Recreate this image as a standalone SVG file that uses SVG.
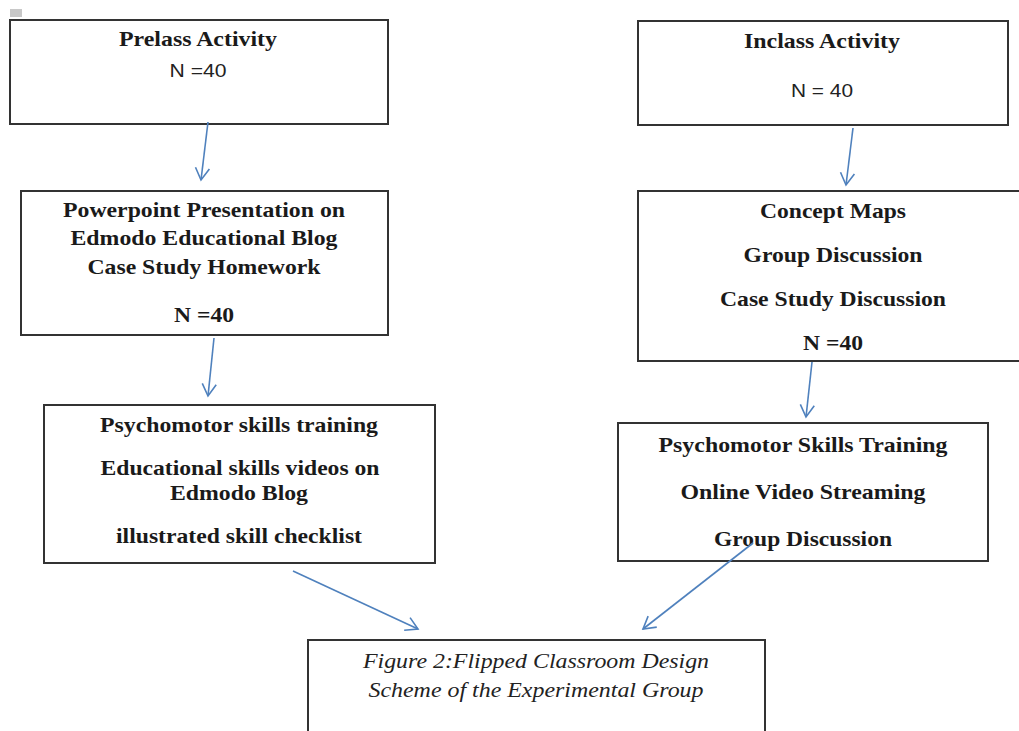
<svg xmlns="http://www.w3.org/2000/svg" width="1019" height="731" viewBox="0 0 1019 731">
<style>
.box{fill:#fff;stroke:#333;stroke-width:2}
.b{font-family:"Liberation Serif",serif;font-weight:bold;font-size:22px;fill:#1a1a1a;text-anchor:middle}
.s{font-family:"Liberation Sans",sans-serif;font-size:19px;fill:#222;text-anchor:middle}
.i{font-family:"Liberation Serif",serif;font-style:italic;font-size:21px;fill:#222;text-anchor:middle}
.c{fill:none;stroke:#4f81bd;stroke-width:1.6}
</style>
<defs>
<marker id="ah" markerUnits="userSpaceOnUse" markerWidth="30" markerHeight="30" refX="15" refY="15" orient="auto" overflow="visible">
<path d="M3,8 L15,15 L3,22" fill="none" stroke="#4f81bd" stroke-width="1.6"/>
</marker>
</defs>
<rect x="0" y="0" width="1019" height="731" fill="#fff"/>
<rect x="10" y="9" width="12" height="8" fill="#c8c8c8"/>
<g id="prelass">
<rect class="box" x="10" y="20" width="378" height="104"/>
<text class="b" x="198" y="46" textLength="158" lengthAdjust="spacingAndGlyphs">Prelass Activity</text>
<text class="s" x="198" y="77" textLength="57" lengthAdjust="spacingAndGlyphs">N =40</text>
</g>
<g id="inclass">
<rect class="box" x="638" y="21" width="370" height="104"/>
<text class="b" x="822" y="48" textLength="156" lengthAdjust="spacingAndGlyphs">Inclass Activity</text>
<text class="s" x="822" y="97" textLength="62" lengthAdjust="spacingAndGlyphs">N = 40</text>
</g>
<g id="powerpoint">
<rect class="box" x="21" y="191" width="367" height="144"/>
<text class="b" x="204" y="217" textLength="282" lengthAdjust="spacingAndGlyphs">Powerpoint Presentation on</text>
<text class="b" x="204" y="245" textLength="267" lengthAdjust="spacingAndGlyphs">Edmodo Educational Blog</text>
<text class="b" x="204" y="274" textLength="233" lengthAdjust="spacingAndGlyphs">Case Study Homework</text>
<text class="b" x="204" y="322" textLength="60" lengthAdjust="spacingAndGlyphs">N =40</text>
</g>
<g id="concept">
<rect class="box" x="638" y="191" width="384" height="170"/>
<text class="b" x="833" y="218" textLength="146" lengthAdjust="spacingAndGlyphs">Concept Maps</text>
<text class="b" x="833" y="262" textLength="179" lengthAdjust="spacingAndGlyphs">Group Discussion</text>
<text class="b" x="833" y="306" textLength="226" lengthAdjust="spacingAndGlyphs">Case Study Discussion</text>
<text class="b" x="833" y="350" textLength="60" lengthAdjust="spacingAndGlyphs">N =40</text>
</g>
<g id="psycho-left">
<rect class="box" x="44" y="405" width="391" height="158"/>
<text class="b" x="239" y="432" textLength="278" lengthAdjust="spacingAndGlyphs">Psychomotor skills training</text>
<text class="b" x="240" y="475" textLength="279" lengthAdjust="spacingAndGlyphs">Educational skills videos on</text>
<text class="b" x="239" y="500" textLength="138" lengthAdjust="spacingAndGlyphs">Edmodo Blog</text>
<text class="b" x="239" y="543" textLength="246" lengthAdjust="spacingAndGlyphs">illustrated skill checklist</text>
</g>
<g id="psycho-right">
<rect class="box" x="618" y="423" width="370" height="138"/>
<text class="b" x="803" y="452" textLength="289" lengthAdjust="spacingAndGlyphs">Psychomotor Skills Training</text>
<text class="b" x="803" y="499" textLength="245" lengthAdjust="spacingAndGlyphs">Online Video Streaming</text>
<text class="b" x="803" y="546" textLength="178" lengthAdjust="spacingAndGlyphs">Group Discussion</text>
</g>
<g id="figure">
<rect class="box" x="308" y="640" width="457" height="100"/>
<text class="i" x="536" y="668" textLength="346" lengthAdjust="spacingAndGlyphs">Figure 2:Flipped Classroom Design</text>
<text class="i" x="536" y="697" textLength="335" lengthAdjust="spacingAndGlyphs">Scheme of the Experimental Group</text>
</g>
<g id="connectors">
<line class="c" x1="208" y1="122" x2="201" y2="180" marker-end="url(#ah)"/>
<line class="c" x1="214" y1="338" x2="208" y2="396" marker-end="url(#ah)"/>
<line class="c" x1="853" y1="128" x2="846" y2="185" marker-end="url(#ah)"/>
<line class="c" x1="812" y1="362" x2="806" y2="417" marker-end="url(#ah)"/>
<line class="c" x1="293" y1="571" x2="418" y2="629" marker-end="url(#ah)"/>
<line class="c" x1="753" y1="543" x2="643" y2="629" marker-end="url(#ah)"/>
</g>
</svg>
